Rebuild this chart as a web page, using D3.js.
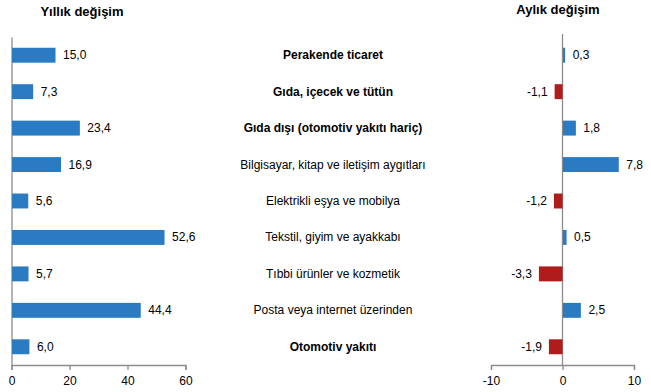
<!DOCTYPE html>
<html>
<head>
<meta charset="utf-8">
<script src="https://cdn.jsdelivr.net/npm/d3@7"></script>
<style>
  body { margin: 0; background: #fff; }
  svg { display: block; font-family: Arial, "Liberation Sans", sans-serif; }
</style>
</head>
<body>
<div id="chart"></div>
<script>
const categories = [
    "Perakende ticaret",
    "Gıda, içecek ve tütün",
    "Gıda dışı (otomotiv yakıtı hariç)",
    "Bilgisayar, kitap ve iletişim aygıtları",
    "Elektrikli eşya ve mobilya",
    "Tekstil, giyim ve ayakkabı",
    "Tıbbi ürünler ve kozmetik",
    "Posta veya internet üzerinden",
    "Otomotiv yakıtı"
];
const boldLabels = ["Perakende ticaret", "Gıda, içecek ve tütün", "Gıda dışı (otomotiv yakıtı hariç)", "Otomotiv yakıtı"];
const yillik = [15.0, 7.3, 23.4, 16.9, 5.6, 52.6, 5.7, 44.4, 6.0];
const aylik = [0.3, -1.1, 1.8, 7.8, -1.2, 0.5, -3.3, 2.5, -1.9];
const yillikTicks = [0, 20, 40, 60];
const aylikTicks = [-10, 0, 10];

const W = 651, H = 392;
const blue = "#2b7bc3", red = "#b01b1b", grey = "#8c8c8c";

const loc = d3.formatLocale({ decimal: ",", thousands: ".", grouping: [3], currency: ["", ""], minus: "-" });
const f1 = loc.format(".1f");
const f0 = loc.format("d");

const svg = d3.select("#chart").append("svg")
    .attr("width", W)
    .attr("height", H);

const y = d3.scaleBand()
    .domain(categories)
    .range([37, 365])
    .paddingInner(0.59)
    .paddingOuter(0.295);

// sol panel: yıllık
const xL = d3.scaleLinear().domain([0, 60]).range([11.5, 185.5]);
// sağ panel: aylık
const xR = d3.scaleLinear().domain([-10, 10]).range([491, 634]);

function styleAxis(g) {
    g.selectAll("path, line").attr("stroke", grey).attr("stroke-width", 1.3);
    g.selectAll("text").attr("font-size", 12).attr("fill", "#000").attr("font-family", "Arial, 'Liberation Sans', sans-serif");
}

svg.append("g")
    .attr("transform", "translate(0,365)")
    .call(d3.axisBottom(xL).tickValues(yillikTicks).tickFormat(f0).tickSize(5).tickPadding(6))
    .call(styleAxis);

svg.append("g")
    .attr("transform", "translate(0,365)")
    .call(d3.axisBottom(xR).tickValues(aylikTicks).tickFormat(f0).tickSize(5).tickPadding(6))
    .call(styleAxis);

// dikey eksen çizgileri
svg.append("g")
    .attr("transform", `translate(${xL(0)},0)`)
    .call(d3.axisLeft(y).tickSize(0).tickSizeOuter(0).tickFormat(""))
    .call(styleAxis);

svg.append("g")
    .attr("transform", `translate(${xR(0)},0)`)
    .call(d3.axisLeft(y).tickSize(0).tickSizeOuter(0).tickFormat(""))
    .call(styleAxis)
    .select(".domain").attr("d", "M0,34V365");

const rows = categories.map((c, i) => ({ c, yl: yillik[i], ay: aylik[i] }));

svg.selectAll(".barL")
    .data(rows)
    .enter().append("rect")
    .attr("class", "barL")
    .attr("x", xL(0) + 0.5)
    .attr("y", d => y(d.c))
    .attr("width", d => xL(d.yl) - xL(0))
    .attr("height", y.bandwidth())
    .attr("fill", blue);

svg.selectAll(".lblL")
    .data(rows)
    .enter().append("text")
    .attr("class", "lblL")
    .attr("x", d => xL(d.yl) + 8)
    .attr("y", d => y(d.c) + y.bandwidth() / 2 + 4)
    .attr("font-size", 12)
    .text(d => f1(d.yl));

svg.selectAll(".barR")
    .data(rows)
    .enter().append("rect")
    .attr("class", "barR")
    .attr("x", d => d.ay >= 0 ? xR(0) + 0.5 : xR(d.ay))
    .attr("y", d => y(d.c))
    .attr("width", d => Math.abs(xR(d.ay) - xR(0)))
    .attr("height", y.bandwidth())
    .attr("fill", d => d.ay >= 0 ? blue : red);

svg.selectAll(".lblR")
    .data(rows)
    .enter().append("text")
    .attr("class", "lblR")
    .attr("x", d => d.ay >= 0 ? xR(d.ay) + 8 : xR(d.ay) - 7)
    .attr("y", d => y(d.c) + y.bandwidth() / 2 + 4)
    .attr("text-anchor", d => d.ay >= 0 ? "start" : "end")
    .attr("font-size", 12)
    .text(d => f1(d.ay));

svg.selectAll(".cat")
    .data(rows)
    .enter().append("text")
    .attr("class", "cat")
    .attr("x", 333)
    .attr("y", d => y(d.c) + y.bandwidth() / 2 + 4)
    .attr("text-anchor", "middle")
    .attr("font-size", 12)
    .attr("font-weight", d => boldLabels.includes(d.c) ? "bold" : "normal")
    .text(d => d.c);

svg.append("text")
    .attr("x", 82).attr("y", 16)
    .attr("text-anchor", "middle")
    .attr("font-size", 13).attr("font-weight", "bold")
    .text("Yıllık değişim");

svg.append("text")
    .attr("x", 558).attr("y", 14)
    .attr("text-anchor", "middle")
    .attr("font-size", 13).attr("font-weight", "bold")
    .text("Aylık değişim");
</script>
</body>
</html>
